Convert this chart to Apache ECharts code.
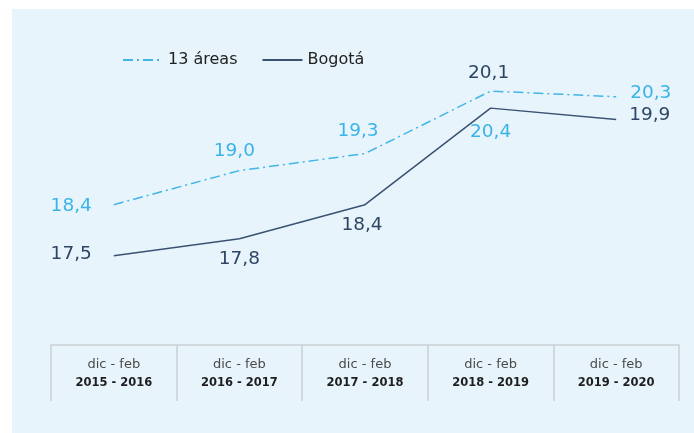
<!DOCTYPE html>
<html>
<head>
<meta charset="utf-8">
<script src="https://cdn.jsdelivr.net/npm/echarts@6/dist/echarts.min.js"></script>
<style>
  html, body { margin: 0; padding: 0; background: #ffffff; }
  #chart { width: 694px; height: 433px; }
</style>
</head>
<body>
<div id="chart"></div>
<script>
// Periods (Dec-Feb quarters) and rates for each series
const periodPrefix = 'dic - feb';
const periods = ['2015 - 2016', '2016 - 2017', '2017 - 2018', '2018 - 2019', '2019 - 2020'];
const areas13 = [18.4, 19.0, 19.3, 20.4, 20.3];
const bogota = [17.5, 17.8, 18.4, 20.1, 19.9];

// Label placement for each point (style only)
const areasLabelPlace = [
  { position: 'left', distance: 20, offset: [0, 1] },
  { position: 'top', distance: 7, offset: [-5, 0] },
  { position: 'top', distance: 10, offset: [-7, 0] },
  { position: 'bottom', distance: 29, offset: [0, 0] },
  { position: 'right', distance: 12, offset: [0, -4] }
];
const bogotaLabelPlace = [
  { position: 'left', distance: 20, offset: [0, -2] },
  { position: 'bottom', distance: 8, offset: [0, 0] },
  { position: 'bottom', distance: 8, offset: [-3, 0] },
  { position: 'top', distance: 23, offset: [-2, 0] },
  { position: 'right', distance: 11, offset: [0, -4] }
];

const LIGHT = '#41b6e6';
const DARK = '#3a5271';
const FONT = 'DejaVu Sans';

function fmt(v) { return v.toFixed(1).replace('.', ','); }

function withLabels(values, places, color) {
  return values.map((v, i) => ({
    value: v,
    label: {
      show: true,
      position: places[i].position,
      distance: places[i].distance,
      offset: places[i].offset,
      formatter: fmt(v),
      color: color,
      opacity: 1,
      fontFamily: FONT,
      fontSize: 18.5,
      lineHeight: 20
    }
  }));
}

const chart = echarts.init(document.getElementById('chart'), null, { renderer: 'canvas' });

chart.setOption({
  animation: false,
  backgroundColor: '#ffffff',
  graphic: [{
    type: 'rect',
    z: -10,
    silent: true,
    shape: { x: 12, y: 9, width: 682, height: 424 },
    style: { fill: '#e8f4fc' }
  }],
  legend: {
    left: 122,
    top: 52,
    padding: 0,
    itemWidth: 40,
    itemHeight: 14,
    itemGap: 24,
    itemStyle: { opacity: 0 },
    textStyle: { fontFamily: FONT, fontSize: 16, color: '#222222' },
    data: ['13 áreas', 'Bogotá']
  },
  grid: { left: 51, right: 15, top: 57, bottom: 88 },
  xAxis: {
    type: 'category',
    data: periods,
    boundaryGap: true,
    axisLine: { show: true, lineStyle: { color: '#c9ced3', width: 1.5 } },
    axisTick: { show: true, interval: 0, length: 56, lineStyle: { color: '#c9ced3', width: 1.5 } },
    axisLabel: {
      interval: 0,
      margin: 11,
      formatter: (val) => '{p|' + periodPrefix + '}\n{y|' + val + '}',
      rich: {
        p: { fontFamily: FONT, fontSize: 13, color: '#4a4a4a', lineHeight: 18, align: 'center' },
        y: { fontFamily: FONT, fontSize: 11.5, fontWeight: 'bold', color: '#1e1e1e', lineHeight: 18, align: 'center' }
      }
    }
  },
  yAxis: {
    type: 'value',
    min: 15.93,
    max: 21,
    show: false,
    splitLine: { show: false }
  },
  series: [
    {
      name: '13 áreas',
      type: 'line',
      symbol: 'circle',
      symbolSize: 4,
      showSymbol: true,
      data: withLabels(areas13, areasLabelPlace, '#3ab4e7'),
      lineStyle: { color: LIGHT, width: 1.5, type: [10, 4, 2, 4] },
      itemStyle: { color: LIGHT, opacity: 0 }
    },
    {
      name: 'Bogotá',
      type: 'line',
      symbol: 'circle',
      symbolSize: 4,
      showSymbol: true,
      data: withLabels(bogota, bogotaLabelPlace, '#2e4664'),
      lineStyle: { color: DARK, width: 1.5 },
      itemStyle: { color: DARK, opacity: 0 }
    }
  ]
});
</script>
</body>
</html>
